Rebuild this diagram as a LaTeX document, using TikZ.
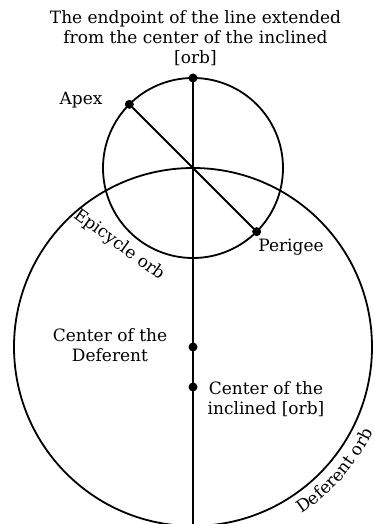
\documentclass[tikz,border=0pt]{standalone}
\usepackage{fontspec}
\setmainfont{DejaVu Serif}
\usetikzlibrary{calc,decorations.text}
\begin{document}
\begin{tikzpicture}[x=1pt,y=1pt,
  ln/.style={line width=1.8pt, black},
  dot/.style={circle, fill=black, inner sep=0pt, minimum size=9pt},
  lbl/.style={font=\fontsize{17}{20}\selectfont, inner sep=0pt, align=center},
]
\useasboundingbox (0,0) rectangle (373,524);
\coordinate (D) at (193,177);
\coordinate (E) at (193,356);
\coordinate (B) at (193,-2);
\coordinate (Tp) at ($(E)+(90:90)$);
\coordinate (Ap) at ($(E)+(135:90)$);
\coordinate (Pe) at ($(E)+(-45:90)$);
\coordinate (Ic) at (193,137);
\draw[ln] (D) circle[radius=179];
\draw[ln] (E) circle[radius=90];
\draw[ln] (Tp) -- (B);
\draw[ln] (Ap) -- (Pe);
\node[dot] (top) at (Tp) {};
\node[dot] (apex) at (Ap) {};
\node[dot] (peri) at (Pe) {};
\node[dot] (defc) at (D) {};
\node[dot] (incl) at (Ic) {};
\node[lbl, anchor=north] (title) at (195.5,514) {The endpoint of the line extended\\from the center of the inclined\\{[orb]}};
\node[lbl] (apexl) at (81,424) {Apex};
\node[lbl] (peril) at (291,277) {Perigee};
\node[lbl] (defl) at (110,179) {Center of the\\Deferent};
\node[lbl] (incll) at (266,125) {Center of the\\inclined [orb]};
\node[lbl, rotate=-36] (epil) at (119,279) {Epicycle orb};
\path[decorate, decoration={text along path, text={|\fontsize{17}{20}\selectfont|Deferent orb}, text align=left}] ($(D)+(-57:199)$) arc[start angle=-57, end angle=-15, radius=199];
\end{tikzpicture}
\end{document}
